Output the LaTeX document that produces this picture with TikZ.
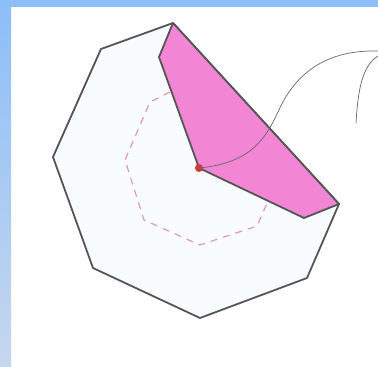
\documentclass[tikz,border=0pt]{standalone}
\usetikzlibrary{calc}
\definecolor{cframe}{HTML}{8CBEF8}
\definecolor{cframelo}{HTML}{C6D7EE}
\definecolor{cedge}{HTML}{555555}
\definecolor{cpink}{HTML}{F286D4}
\definecolor{cpale}{HTML}{F8FCFE}
\definecolor{cdot}{HTML}{D23A3A}
\definecolor{cdash}{HTML}{E09CA0}
\tikzset{
  every picture/.style={line join=round},
  outline/.style={draw=cedge, line width=1.8pt},
  piece/.style={outline, fill=cpink},
  trace/.style={draw=cdash, line width=1.2pt, dash pattern=on 7pt off 6pt},
  thread/.style={draw=cedge!90, line width=0.7pt},
}

\begin{document}
\begin{tikzpicture}[x=1pt, y=-1pt]
  \useasboundingbox (0,0) rectangle (378,367);
  % frame
  \fill[white] (0,0) rectangle (378,367);
  \shade[top color=cframe, bottom color=cframelo] (0,0) rectangle (11,367);
  \fill[cframe] (0,0) rectangle (378,7);
  % heptagon corners
  \coordinate (t) at (173,23);
  \coordinate (ul) at (101,49);
  \coordinate (l) at (53,157);
  \coordinate (ll) at (93,268);
  \coordinate (b) at (200,318);
  \coordinate (lr) at (307,278);
  \coordinate (r) at (339,204);
  \coordinate (p) at (159,57);
  \coordinate (q) at (304,218);
  % outer heptagon
  \draw[outline, fill=cpale] (t) -- (ul) -- (l) -- (ll) -- (b) -- (lr) -- (r) -- cycle;
  % dashed inner path
  \draw[trace] (170,92) -- (150,102) -- (125,160) -- (144,220) -- (200,245)
    -- (257,226) -- (268,201);
  % cut piece
  \draw[piece] (t) -- (r) -- (q) -- (199,168) -- (p) -- cycle;
  \node[circle, fill=cdot, inner sep=0pt, minimum size=8pt] (pivot) at (199,168) {};
  % thread
  \draw[thread] (pivot.center) .. controls (250,163) and (265,140) .. (278,112)
    .. controls (300,62) and (340,50) .. (378,51);
  \draw[thread] (378,56) .. controls (362,66) and (358,90) .. (356,123);
\end{tikzpicture}
\end{document}
